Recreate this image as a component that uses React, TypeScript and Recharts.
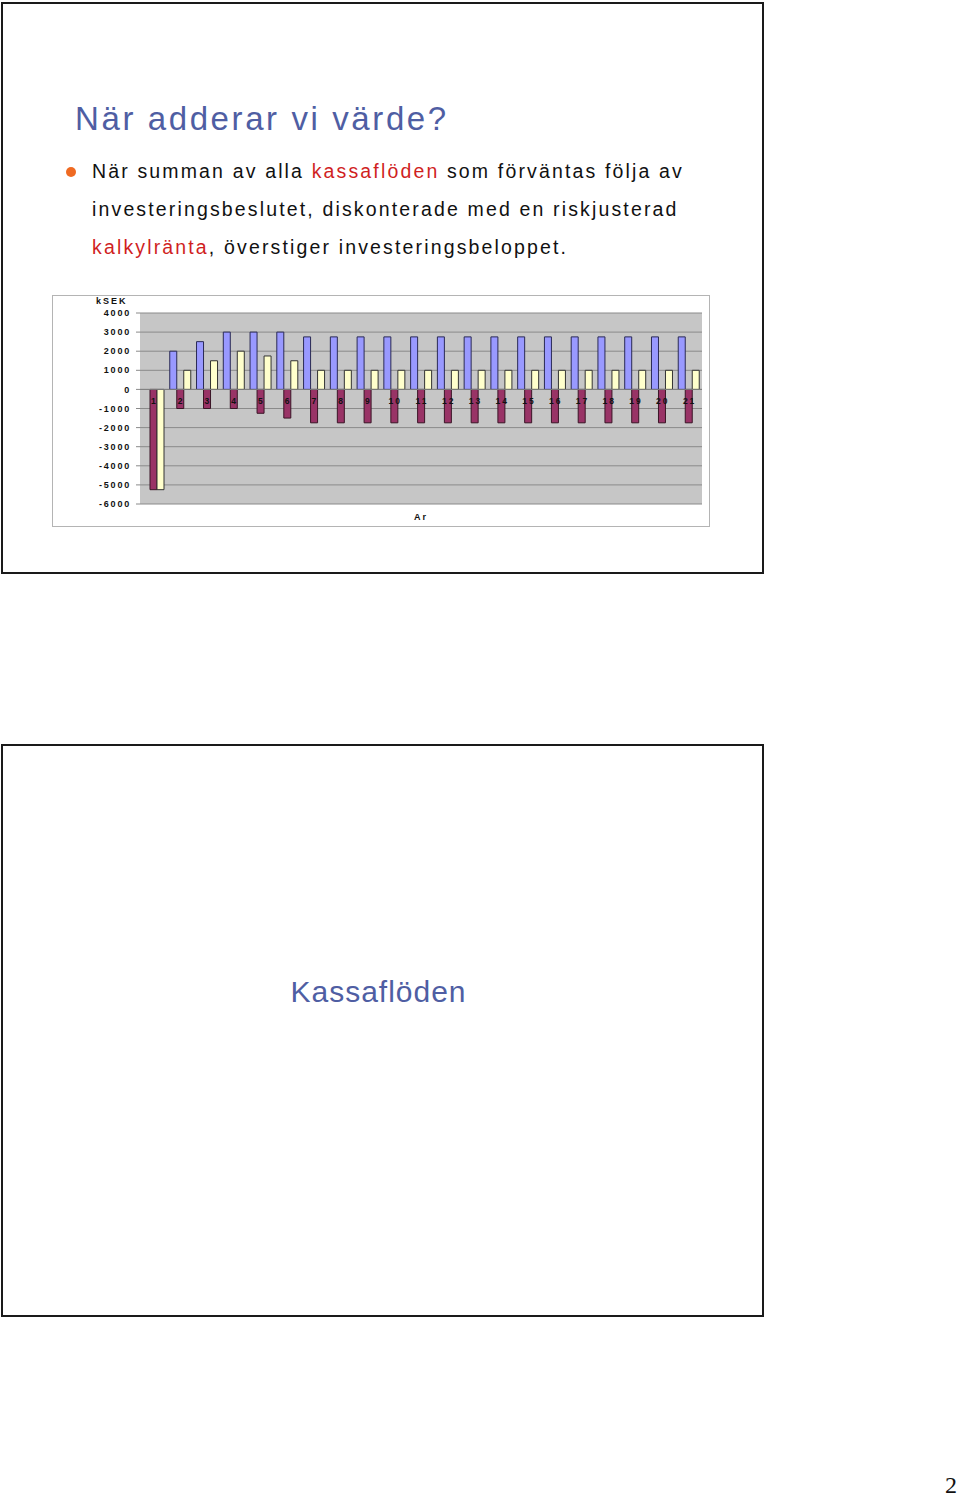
import React from "react";
import {
  BarChart,
  Bar,
  XAxis,
  YAxis,
  CartesianGrid,
  ReferenceLine,
} from "recharts";

// Years on the x axis
const YEARS = [
  "1", "2", "3", "4", "5", "6", "7", "8", "9", "10", "11",
  "12", "13", "14", "15", "16", "17", "18", "19", "20", "21",
];

// kSEK per year
const INFLOWS: (number | null)[] = [
  null, 2000, 2500, 3000, 3000, 3000, 2750, 2750, 2750, 2750, 2750,
  2750, 2750, 2750, 2750, 2750, 2750, 2750, 2750, 2750, 2750,
];
const OUTFLOWS = [
  -5250, -1000, -1000, -1000, -1250, -1500, -1750, -1750, -1750, -1750, -1750,
  -1750, -1750, -1750, -1750, -1750, -1750, -1750, -1750, -1750, -1750,
];
const NET = [
  -5250, 1000, 1500, 2000, 1750, 1500, 1000, 1000, 1000, 1000, 1000,
  1000, 1000, 1000, 1000, 1000, 1000, 1000, 1000, 1000, 1000,
];

const Y_TICKS = [4000, 3000, 2000, 1000, 0, -1000, -2000, -3000, -4000, -5000, -6000];

const data = YEARS.map((year, i) => ({
  year,
  inflow: INFLOWS[i],
  outflow: OUTFLOWS[i],
  net: NET[i],
}));

const SANS = "'Liberation Sans', Arial, sans-serif";
const CHART_W = 658;
const CHART_H = 232;
const MARGIN = { top: 18, right: 8, bottom: 0, left: 0 };
const X_AXIS_H = 23;
const Y_AXIS_W = 88;
const PLOT_H = CHART_H - MARGIN.top - MARGIN.bottom - X_AXIS_H;
const Y_MAX = Math.max(...Y_TICKS);
const Y_MIN = Math.min(...Y_TICKS);
// distance from the bottom of the plot up to the zero line
const ZERO_FROM_BOTTOM = (PLOT_H * -Y_MIN) / (Y_MAX - Y_MIN);

function YearTick(props: any) {
  const { x, y, payload } = props;
  return (
    <text
      x={x + 1}
      y={y - ZERO_FROM_BOTTOM + 15}
      textAnchor="middle"
      fontFamily={SANS}
      fontSize={8.5}
      fontWeight="bold"
      letterSpacing={2}
      fill="#111"
    >
      {payload.value}
    </text>
  );
}

function CashFlowChart() {
  return (
    <div
      style={{
        position: "absolute",
        left: 52,
        top: 295,
        width: CHART_W,
        height: CHART_H,
        border: "1px solid #b4b4b4",
        boxSizing: "border-box",
        background: "#fff",
      }}
    >
      <div
        style={{
          position: "absolute",
          left: 43,
          top: 0,
          fontFamily: SANS,
          fontSize: 9,
          fontWeight: "bold",
          letterSpacing: 2,
          color: "#111",
        }}
      >
        kSEK
      </div>
      <BarChart
        width={CHART_W}
        height={CHART_H}
        data={data}
        margin={MARGIN}
        barCategoryGap={3}
        barGap={0}
        style={{ position: "absolute", left: -1, top: -1 }}
      >
        <CartesianGrid vertical={false} stroke="#8a8a8a" fill="#c6c6c6" />
        <XAxis
          dataKey="year"
          height={X_AXIS_H}
          axisLine={false}
          tickLine={false}
          tickSize={0}
          tickMargin={0}
          interval={0}
          tick={<YearTick />}
          label={{
            value: "Ar",
            position: "insideBottom",
            offset: 7,
            style: {
              fontFamily: SANS,
              fontSize: 9,
              fontWeight: "bold",
              letterSpacing: 2,
              fill: "#111",
            },
          }}
        />
        <YAxis
          width={Y_AXIS_W}
          domain={[Y_MIN, Y_MAX]}
          ticks={Y_TICKS}
          interval={0}
          axisLine={false}
          tickLine={{ stroke: "#8a8a8a" }}
          tickSize={4}
          tickMargin={5}
          tick={{
            fontFamily: SANS,
            fontSize: 9,
            fontWeight: "bold",
            letterSpacing: 1.8,
            fill: "#111",
          }}
        />
        <ReferenceLine y={0} stroke="#808080" />
        <Bar dataKey="inflow" fill="#9999ff" stroke="#2a2a55" strokeWidth={1} isAnimationActive={false} />
        <Bar dataKey="outflow" fill="#993366" stroke="#3a1526" strokeWidth={1} isAnimationActive={false} />
        <Bar dataKey="net" fill="#ffffcc" stroke="#333" strokeWidth={1} isAnimationActive={false} />
      </BarChart>
    </div>
  );
}

export default function App() {
  return (
    <div
      style={{
        position: "absolute",
        left: 0,
        top: 0,
        width: 960,
        height: 1497,
        background: "#fff",
        overflow: "hidden",
      }}
    >
      {/* slide 1 */}
      <div
        style={{
          position: "absolute",
          left: 1,
          top: 2,
          width: 763,
          height: 572,
          border: "2px solid #1a1a1a",
          boxSizing: "border-box",
        }}
      />
      <div
        style={{
          position: "absolute",
          left: 75,
          top: 100,
          fontFamily: SANS,
          fontSize: 33,
          letterSpacing: 2.6,
          color: "#4f5ea3",
          whiteSpace: "nowrap",
        }}
      >
        När adderar vi värde?
      </div>
      <div
        style={{
          position: "absolute",
          left: 66,
          top: 167,
          width: 10,
          height: 10,
          borderRadius: 5,
          background: "#ef6a22",
        }}
      />
      <div
        style={{
          position: "absolute",
          left: 92,
          top: 152,
          fontFamily: SANS,
          fontSize: 19.5,
          lineHeight: "38px",
          letterSpacing: 2.15,
          color: "#111",
          whiteSpace: "nowrap",
        }}
      >
        När summan av alla <span style={{ color: "#d01f1f" }}>kassaflöden</span> som förväntas följa av
        <br />
        investeringsbeslutet, diskonterade med en riskjusterad
        <br />
        <span style={{ color: "#d01f1f" }}>kalkylränta</span>, överstiger investeringsbeloppet.
      </div>
      <CashFlowChart />

      {/* slide 2 */}
      <div
        style={{
          position: "absolute",
          left: 1,
          top: 744,
          width: 763,
          height: 573,
          border: "2px solid #1a1a1a",
          boxSizing: "border-box",
        }}
      />
      <div
        style={{
          position: "absolute",
          left: -3,
          top: 975,
          width: 763,
          textAlign: "center",
          fontFamily: SANS,
          fontSize: 30,
          letterSpacing: 1,
          color: "#4f5ea3",
        }}
      >
        Kassaflöden
      </div>

      <div
        style={{
          position: "absolute",
          right: 3,
          top: 1474,
          fontFamily: "'Liberation Serif', 'Times New Roman', serif",
          fontSize: 24,
          lineHeight: "22px",
          color: "#111",
        }}
      >
        2
      </div>
    </div>
  );
}
